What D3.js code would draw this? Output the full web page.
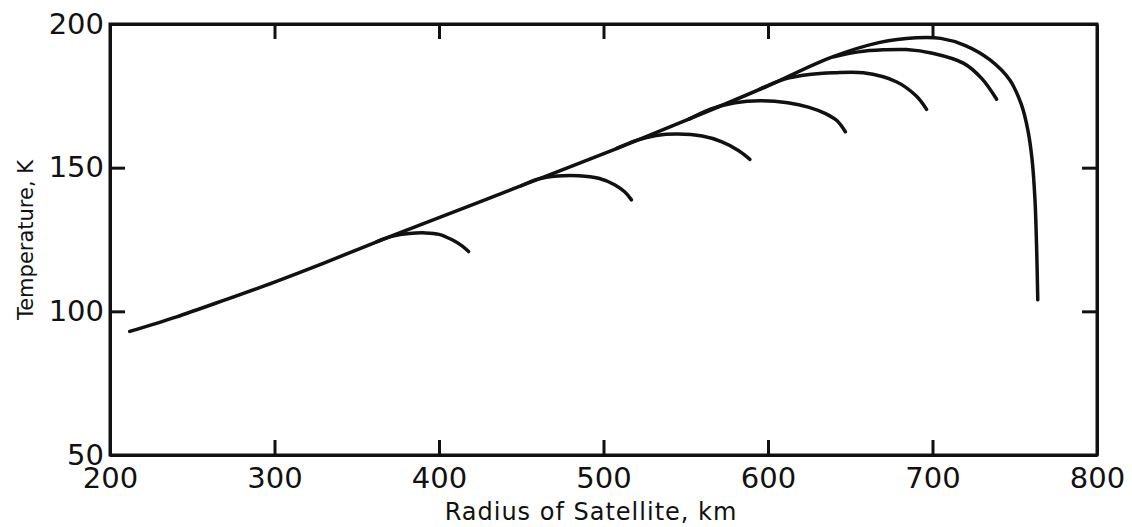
<!DOCTYPE html>
<html>
<head>
<meta charset="utf-8">
<script src="https://cdn.jsdelivr.net/npm/d3@7"></script>
<style>
  body { margin: 0; background: #fff; }
  svg text { font-family: 'DejaVu Sans', sans-serif; fill: #111; }
</style>
</head>
<body>
<svg id="chart" width="1132" height="527"></svg>
<script>
// tick values
var xTicks = [200, 300, 400, 500, 600, 700, 800];
var yTicks = [50, 100, 150, 200];

// outer envelope (radius km, temperature K)
var mainRadius = [212, 240, 270, 300, 330, 364, 400, 445, 480, 520, 560, 600, 638, 668, 690, 705, 720, 735, 747, 754, 758, 760.5, 762.3, 763.3, 764];
var mainTemp   = [93, 98, 104, 110.2, 116.8, 124.6, 132.6, 142.6, 150.4, 159.4, 168.8, 178.5, 188.3, 193.6, 195.2, 195, 192.5, 187.5, 180.5, 172, 163, 153, 138.8, 122, 104];

// branches leaving the envelope
var arc1Radius = [362, 372, 382, 392, 400, 408, 414, 418];
var arc1Temp   = [124.2, 126.2, 127.1, 127.3, 126.8, 124.9, 122.8, 120.8];
var arc2Radius = [450, 460, 472, 485, 497, 507, 513, 517];
var arc2Temp   = [143.7, 146, 147.1, 147.2, 146.3, 144, 141.5, 138.8];
var arc3Radius = [508, 520, 532, 545, 560, 572, 582, 589];
var arc3Temp   = [156.7, 159.5, 161.2, 161.7, 161, 159, 156, 152.9];
var arc4Radius = [552, 565, 580, 595, 612, 625, 635, 642, 647];
var arc4Temp   = [166.9, 170.4, 172.6, 173.3, 172.6, 171, 168.8, 166.3, 162.5];
var arc5Radius = [595, 610, 625, 640, 658, 678, 690, 696.4];
var arc5Temp   = [177.3, 180.8, 182.4, 183, 183, 179.9, 175, 170.3];
var arc6Radius = [640, 655, 670, 684, 700, 719, 730, 739];
var arc6Temp   = [188.6, 190.3, 191, 191.1, 189.8, 186.3, 181, 173.8];

var curves = [
    [mainRadius, mainTemp],
    [arc1Radius, arc1Temp],
    [arc2Radius, arc2Temp],
    [arc3Radius, arc3Temp],
    [arc4Radius, arc4Temp],
    [arc5Radius, arc5Temp],
    [arc6Radius, arc6Temp]
];

var svg = d3.select('#chart');
var plotL = 110, plotR = 1097, plotT = 24, plotB = 455;

var x = d3.scaleLinear().domain([200, 800]).range([plotL, plotR]);
var y = d3.scaleLinear().domain([50, 200]).range([plotB, plotT]);

var ink = '#111';

svg.append('g')
    .attr('class', 'xaxis')
    .attr('transform', 'translate(0,' + plotB + ')')
    .call(d3.axisBottom(x).tickValues(xTicks).tickSizeInner(-15).tickSizeOuter(0).tickPadding(12).tickFormat(d3.format('d')));

svg.append('g')
    .attr('class', 'xaxis2')
    .attr('transform', 'translate(0,' + plotT + ')')
    .call(d3.axisTop(x).tickValues(xTicks.slice(1, -1)).tickSizeInner(-15).tickSizeOuter(0).tickFormat(''));

svg.append('g')
    .attr('class', 'yaxis')
    .attr('transform', 'translate(' + plotL + ',0)')
    .call(d3.axisLeft(y).tickValues(yTicks).tickSizeInner(-15).tickSizeOuter(0).tickPadding(6).tickFormat(d3.format('d')));

svg.append('g')
    .attr('class', 'yaxis2')
    .attr('transform', 'translate(' + plotR + ',0)')
    .call(d3.axisRight(y).tickValues(yTicks.slice(1, -1)).tickSizeInner(-15).tickSizeOuter(0).tickFormat(''));

svg.selectAll('.domain').attr('stroke', ink).attr('stroke-width', 3);
svg.selectAll('.tick line').attr('stroke', ink).attr('stroke-width', 3);
svg.selectAll('.tick text')
    .style('font-size', '29px')
    .style('font-family', "'DejaVu Sans', sans-serif")
    .attr('fill', ink);

// frame
svg.append('rect')
    .attr('x', plotL)
    .attr('y', plotT)
    .attr('width', plotR - plotL)
    .attr('height', plotB - plotT)
    .attr('fill', 'none')
    .attr('stroke', ink)
    .attr('stroke-width', 3);

var line = d3.line()
    .x(function(d){ return x(d[0]); })
    .y(function(d){ return y(d[1]); })
    .curve(d3.curveCatmullRom.alpha(0.5));

svg.selectAll('path.curve')
    .data(curves)
    .enter()
    .append('path')
    .attr('class', 'curve')
    .attr('d', function(c){
        return line(c[0].map(function(r, i){ return [r, c[1][i]]; }));
    })
    .attr('fill', 'none')
    .attr('stroke', ink)
    .attr('stroke-width', 3.5)
    .attr('stroke-linecap', 'round');

svg.append('text')
    .attr('x', 591)
    .attr('y', 520)
    .attr('text-anchor', 'middle')
    .style('font-size', '24px')
    .style('letter-spacing', '1px')
    .text('Radius of Satellite, km');

svg.append('text')
    .attr('transform', 'translate(33,240) rotate(-90)')
    .attr('text-anchor', 'middle')
    .style('font-size', '21px')
    .text('Temperature, K');
</script>
</body>
</html>
